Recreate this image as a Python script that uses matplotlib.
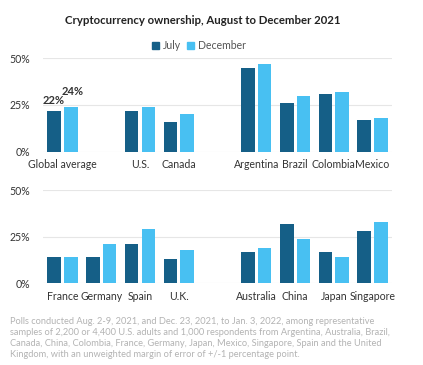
# Cryptocurrency ownership, July vs December 2021, two panels of grouped bars
import matplotlib; matplotlib.use("Agg"); import matplotlib.pyplot as plt
from matplotlib.patches import Patch

plt.rcParams["font.family"] = ["Lato", "DejaVu Sans"]

top_labels = ["Global average", "U.S.", "Canada", "Argentina", "Brazil", "Colombia", "Mexico"]
top_slots = [0, 2, 3, 5, 6, 7, 8]
top_july = [22, 22, 16, 45, 26, 31, 17]
top_dec = [24, 24, 20, 47, 30, 32, 18]

bot_labels = ["France", "Germany", "Spain", "U.K.", "Australia", "China", "Japan", "Singapore"]
bot_slots = [0, 1, 2, 3, 5, 6, 7, 8]
bot_july = [14, 14, 21, 13, 17, 32, 17, 28]
bot_dec = [14, 21, 29, 18, 19, 24, 14, 33]

yticks = [0, 25, 50]
C_JUL = "#155f87"; C_DEC = "#48c0f2"; GRID = "#e6e6e6"; TXT = "#333333"
W = 0.35; OFF = 0.215

fig = plt.figure(figsize=(4.23, 3.65), dpi=100)
ax1 = fig.add_axes([0.1017, 0.5844, 0.825, 0.2559])
ax2 = fig.add_axes([0.1017, 0.2238, 0.825, 0.2548])

def panel(ax, slots, labels, jul, dec):
    ax.bar([s - OFF for s in slots], jul, W, color=C_JUL, zorder=3)
    ax.bar([s + OFF for s in slots], dec, W, color=C_DEC, zorder=3)
    ax.set_xlim(-0.5, 8.5); ax.set_ylim(0, 50)
    ax.set_yticks(yticks); ax.set_yticklabels([f"{v}%" for v in yticks])
    ax.set_xticks(slots); ax.set_xticklabels(labels)
    ax.tick_params(length=0, labelsize=7.6, labelcolor=TXT)
    ax.tick_params(axis="y", pad=9); ax.tick_params(axis="x", pad=5.5)
    ax.grid(axis="y", color=GRID, lw=0.8, zorder=0)
    for sp in ax.spines.values(): sp.set_visible(False)

panel(ax1, top_slots, top_labels, top_july, top_dec)
panel(ax2, bot_slots, bot_labels, bot_july, bot_dec)

ax1.annotate(f"{top_july[0]}%", (top_slots[0] - OFF, top_july[0]), xytext=(0, 3), textcoords="offset points",
             ha="center", va="bottom", fontsize=8, fontweight="bold", color=TXT)
ax1.annotate(f"{top_dec[0]}%", (top_slots[0] + OFF, top_dec[0]), xytext=(1, 7), textcoords="offset points",
             ha="center", va="bottom", fontsize=8, fontweight="bold", color=TXT)

fig.text(0.48, 0.943, "Cryptocurrency ownership, August to December 2021", ha="center", va="center",
         fontsize=8.2, fontweight="bold", color="#222222")
fig.legend(handles=[Patch(color=C_JUL, label="July"), Patch(color=C_DEC, label="December")],
           loc="center", bbox_to_anchor=(0.47, 0.875), ncol=2, frameon=False, fontsize=7.6,
           handlelength=0.7, handleheight=0.7, handletextpad=0.3, columnspacing=0.6, labelcolor="#555555")

note = ("Polls conducted Aug. 2-9, 2021, and Dec. 23, 2021, to Jan. 3, 2022, among representative\n"
        "samples of 2,200 or 4,400 U.S. adults and 1,000 respondents from Argentina, Australia, Brazil,\n"
        "Canada, China, Colombia, France, Germany, Japan, Mexico, Singapore, Spain and the United\n"
        "Kingdom, with an unweighted margin of error of +/-1 percentage point.")
fig.text(0.024, 0.074, note, ha="left", va="center", fontsize=6.65, color="#b3b3b3", linespacing=1.25)

fig.savefig("out.png", dpi=100)
